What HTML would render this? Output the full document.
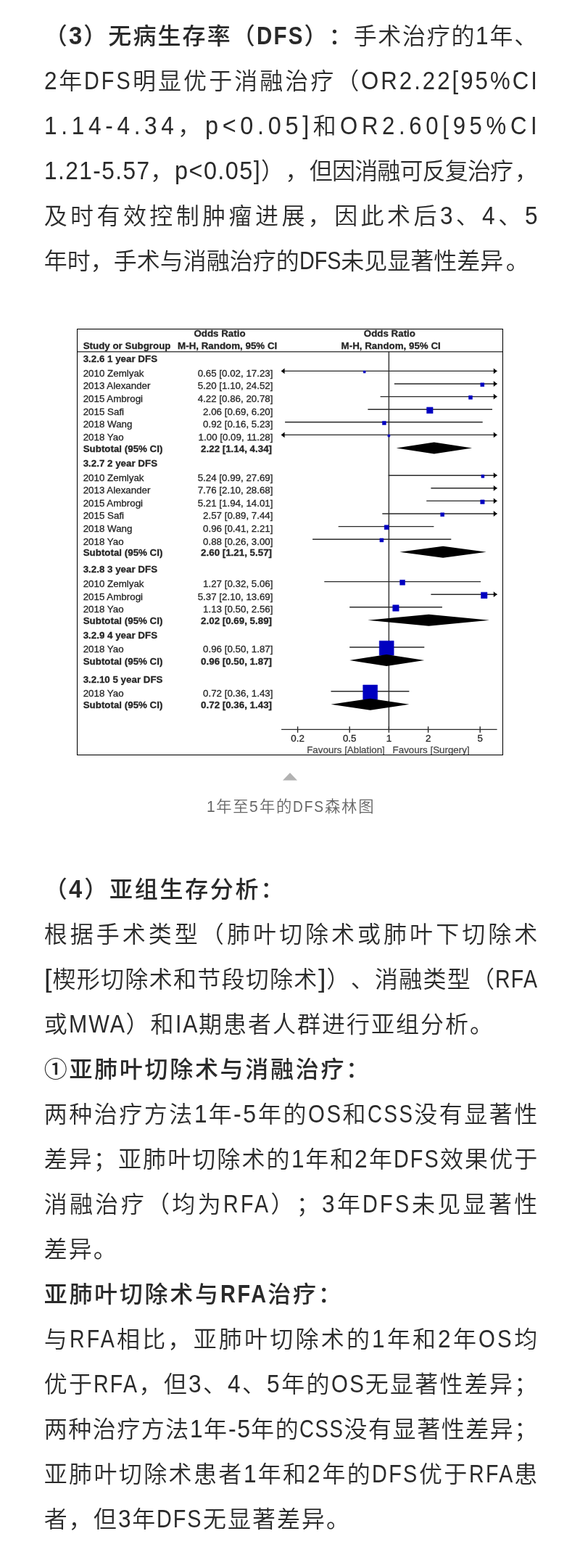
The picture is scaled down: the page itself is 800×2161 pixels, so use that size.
<!DOCTYPE html>
<html lang="zh-CN">
<head>
<meta charset="utf-8">
<meta name="viewport" content="width=800">
<title>无病生存率（DFS）与亚组生存分析</title>
<style>
*{box-sizing:border-box}
html,body{margin:0;padding:0;background:#fff}
body{width:800px;min-height:2161px;position:relative;overflow-x:hidden;color:#2a2a2a;font-family:"Liberation Sans","Noto Sans CJK SC",sans-serif;font-weight:350;-webkit-text-size-adjust:100%;text-spacing-trim:space-all}
.article{width:800px;padding:19px 0 0 60.7px}
p.txt{margin:0;width:680.5px;font-size:32px;line-height:62px;text-align:justify}
p.txt .l{display:block;height:62px;white-space:nowrap}
p.txt strong{font-weight:500}
p.txt strong .e{font-weight:700}
.e{display:inline-block;line-height:1;transform-origin:0 50%;white-space:nowrap;font-size:1.075em}
figure{margin:0;padding:0}
.forest{display:block}
.fig{position:absolute;left:106px;top:453px;width:588px;height:588px}
.tri{position:absolute;left:388px;top:1065px;width:24px;height:12px;display:block}
figcaption{position:absolute;left:284.67px;top:1094px;width:234.66px;font-size:21.33px;line-height:36px;letter-spacing:1.8px;color:#666;font-weight:350;white-space:nowrap}
.sec2{position:absolute;left:60.7px;top:1195px;width:680.5px}
</style>
</head>
<body>
<article class="article">
<section class="sec1">
<p class="txt">
<span class="l" style="letter-spacing:1.71px"><strong style="letter-spacing:2.11px">（<span class="e" style="width:20.36px;transform:scaleX(0.9535);letter-spacing:2.22px">3</span>）无病生存率（<span class="e" style="width:65.48px;transform:scaleX(0.8596);letter-spacing:2.46px">DFS</span>）：</strong>手术治疗的<span class="e" style="width:19.29px;transform:scaleX(0.9184);letter-spacing:1.87px">1</span>年、</span>
<span class="l" style="letter-spacing:3.04px"><span class="e" style="width:20.62px;transform:scaleX(0.9184);letter-spacing:3.31px">2</span>年<span class="e" style="width:66.69px;transform:scaleX(0.8369);letter-spacing:3.63px">DFS</span>明显优于消融治疗（<span class="e" style="width:245.89px;transform:scaleX(0.9054);letter-spacing:3.36px">OR2.22[95%CI</span></span>
<span class="l" style="letter-spacing:5.67px"><span class="e" style="width:184.62px;transform:scaleX(0.9194);letter-spacing:6.16px">1.14-4.34</span>，<span class="e" style="width:148.83px;transform:scaleX(0.9434);letter-spacing:6.01px">p&lt;0.05]</span>和<span class="e" style="width:277.43px;transform:scaleX(0.9054);letter-spacing:6.26px">OR2.60[95%CI</span></span>
<span class="l"><span class="e" style="width:146.57px;transform:scaleX(0.9194);letter-spacing:1.57px">1.21-5.57</span><span style="letter-spacing:1.44px">，</span><span class="e" style="width:119.24px;transform:scaleX(0.9434);letter-spacing:1.53px">p&lt;0.05]</span><span style="letter-spacing:1.44px">），</span><span style="letter-spacing:-0.85px">但因消融可反复治</span><span style="letter-spacing:2px">疗，</span></span>
<span class="l" style="letter-spacing:4.41px">及时有效控制肿瘤进展，因此术后<span class="e" style="width:21.99px;transform:scaleX(0.9184);letter-spacing:4.8px">3</span>、<span class="e" style="width:21.99px;transform:scaleX(0.9184);letter-spacing:4.8px">4</span>、<span class="e" style="width:21.99px;transform:scaleX(0.9184);letter-spacing:4.8px">5</span></span>
<span class="l">年时，手术与消融治疗的<span class="e" style="width:57.58px;transform:scaleX(0.8369)">DFS</span>未见显著性差<span style="letter-spacing:3.5px">异</span>。</span>
</p>
</section>
<figure>
<div class="fig">
<svg class="forest" width="588" height="588" viewBox="106 453 588 588" font-family="'Liberation Sans', sans-serif" font-size="13.35" fill="#262626" stroke="#262626" stroke-width="0.3">
<defs><filter id="soft" x="-2%" y="-2%" width="104%" height="104%"><feGaussianBlur stdDeviation="0.45"/></filter></defs>
<rect x="106" y="453" width="588" height="588" fill="#fff"/>
<g filter="url(#soft)">
<g font-weight="bold">
<text x="303" y="463.5" text-anchor="middle">Odds Ratio</text>
<text x="537.4" y="463.5" text-anchor="middle">Odds Ratio</text>
<text x="114.7" y="481.4">Study or Subgroup</text>
<text x="313.7" y="481.4" text-anchor="middle">M-H, Random, 95% CI</text>
<text x="539.2" y="481.4" text-anchor="middle">M-H, Random, 95% CI</text>
<text x="114.7" y="498.6">3.2.6 1 year DFS</text>
<text x="114.7" y="623">Subtotal (95% CI)</text>
<text x="375" y="623" text-anchor="end">2.22 [1.14, 4.34]</text>
<text x="114.7" y="642.6">3.2.7 2 year DFS</text>
<text x="114.7" y="766.4">Subtotal (95% CI)</text>
<text x="375" y="766.4" text-anchor="end">2.60 [1.21, 5.57]</text>
<text x="114.7" y="788.9">3.2.8 3 year DFS</text>
<text x="114.7" y="860.4">Subtotal (95% CI)</text>
<text x="375" y="860.4" text-anchor="end">2.02 [0.69, 5.89]</text>
<text x="114.7" y="879.7">3.2.9 4 year DFS</text>
<text x="114.7" y="915.6">Subtotal (95% CI)</text>
<text x="375" y="915.6" text-anchor="end">0.96 [0.50, 1.87]</text>
<text x="114.7" y="941.2">3.2.10 5 year DFS</text>
<text x="114.7" y="976.4">Subtotal (95% CI)</text>
<text x="375" y="976.4" text-anchor="end">0.72 [0.36, 1.43]</text>
</g>
<g>
<text x="114.7" y="518.7">2010 Zemlyak</text>
<text x="376.5" y="518.7" text-anchor="end">0.65 [0.02, 17.23]</text>
<text x="114.7" y="536.3">2013 Alexander</text>
<text x="376.5" y="536.3" text-anchor="end">5.20 [1.10, 24.52]</text>
<text x="114.7" y="553.9">2015 Ambrogi</text>
<text x="376.5" y="553.9" text-anchor="end">4.22 [0.86, 20.78]</text>
<text x="114.7" y="571.5">2015 Safi</text>
<text x="376.5" y="571.5" text-anchor="end">2.06 [0.69, 6.20]</text>
<text x="114.7" y="589.1">2018 Wang</text>
<text x="376.5" y="589.1" text-anchor="end">0.92 [0.16, 5.23]</text>
<text x="114.7" y="606.7">2018 Yao</text>
<text x="376.5" y="606.7" text-anchor="end">1.00 [0.09, 11.28]</text>
<text x="114.7" y="662.5">2010 Zemlyak</text>
<text x="376.5" y="662.5" text-anchor="end">5.24 [0.99, 27.69]</text>
<text x="114.7" y="680.1">2013 Alexander</text>
<text x="376.5" y="680.1" text-anchor="end">7.76 [2.10, 28.68]</text>
<text x="114.7" y="697.7">2015 Ambrogi</text>
<text x="376.5" y="697.7" text-anchor="end">5.21 [1.94, 14.01]</text>
<text x="114.7" y="715.3">2015 Safi</text>
<text x="376.5" y="715.3" text-anchor="end">2.57 [0.89, 7.44]</text>
<text x="114.7" y="732.9">2018 Wang</text>
<text x="376.5" y="732.9" text-anchor="end">0.96 [0.41, 2.21]</text>
<text x="114.7" y="750.5">2018 Yao</text>
<text x="376.5" y="750.5" text-anchor="end">0.88 [0.26, 3.00]</text>
<text x="114.7" y="808.9">2010 Zemlyak</text>
<text x="376.5" y="808.9" text-anchor="end">1.27 [0.32, 5.06]</text>
<text x="114.7" y="826.5">2015 Ambrogi</text>
<text x="376.5" y="826.5" text-anchor="end">5.37 [2.10, 13.69]</text>
<text x="114.7" y="844.1">2018 Yao</text>
<text x="376.5" y="844.1" text-anchor="end">1.13 [0.50, 2.56]</text>
<text x="114.7" y="899.3">2018 Yao</text>
<text x="376.5" y="899.3" text-anchor="end">0.96 [0.50, 1.87]</text>
<text x="114.7" y="960.1">2018 Yao</text>
<text x="376.5" y="960.1" text-anchor="end">0.72 [0.36, 1.43]</text>
</g>
<g stroke="#2a2a2a" stroke-width="1.4" fill="none">
<path d="M107 484.7H693" stroke="#4a4a4a" stroke-width="1.6"/>
<path d="M536.4 484.7V1005.4"/>
<path d="M388.1 1005.4H685.6"/>
<path d="M410.6 1001.2V1009.8M482.2 1001.2V1009.8M536.4 1001.2V1009.8M590.6 1001.2V1009.8M662.2 1001.2V1009.8"/>
<path d="M388.1 511.4H685.6M543.9 529H685.6M524.6 546.6H685.6M507.4 564.2H679M393.1 581.8H665.7M388.1 599.4H685.6M535.6 655.2H685.6M594.4 672.8H685.6M588.2 690.4H685.6M527.3 708H685.6M466.7 725.6H598.4M431.1 743.2H622.3M447.3 801.6H663.1M594.4 819.2H685.6M482.2 836.8H609.9M482.2 892H585.3M456.5 952.8H564.4"/>
</g>
<path d="M387.8 511.4l4.8 -3.9v7.8zM685.6 511.4l-4.8 -3.9v7.8zM685.6 529l-4.8 -3.9v7.8zM685.6 546.6l-4.8 -3.9v7.8zM387.8 599.4l4.8 -3.9v7.8zM685.6 599.4l-4.8 -3.9v7.8zM685.6 655.2l-4.8 -3.9v7.8zM685.6 672.8l-4.8 -3.9v7.8zM685.6 690.4l-4.8 -3.9v7.8zM685.6 708l-4.8 -3.9v7.8zM685.6 819.2l-4.8 -3.9v7.8z" fill="#000" stroke="none"/>
<path d="M501.2 511.1h3v3h-3zM662.8 527.7h5v5h-5zM646.5 545.3h5v5h-5zM588.6 561.2h8.5v8.5h-8.5zM527.4 580.5h5v5h-5zM534.9 599.1h3v3h-3zM663.9 654.4h4v4h-4zM662.7 688.9h5.5v5.5h-5.5zM607.7 706.7h5v5h-5zM530.2 723.8h6v6h-6zM523.9 741.9h5v5h-5zM551.6 799.3h7v7h-7zM663.5 816.2h8.5v8.5h-8.5zM541.7 833.8h8.5v8.5h-8.5zM523.2 883.2h20v20h-20zM500.7 944h20v20h-20z" fill="#0000c0" stroke="#0000c0" stroke-width="0.5"/>
<path d="M546.6 617.4L598.7 609.4L651.1 617.4L598.7 625.4zM551.3 760.8L611.1 752.8L670.7 760.8L611.1 768.8zM507.4 854.8L591.4 846.8L675 854.8L591.4 862.8zM482.2 910L533.2 902L585.3 910L533.2 918zM456.5 970.8L510.7 962.8L564.4 970.8L510.7 978.8z" fill="#000" stroke="none"/>
<g text-anchor="middle">
<text x="410.6" y="1022.4">0.2</text>
<text x="482.2" y="1022.4">0.5</text>
<text x="536.4" y="1022.4">1</text>
<text x="590.6" y="1022.4">2</text>
<text x="662.2" y="1022.4">5</text>
<text x="477" y="1037.6" fill="#4d4d4d" stroke="#4d4d4d">Favours [Ablation]</text>
<text x="594.6" y="1037.6" fill="#4d4d4d" stroke="#4d4d4d">Favours [Surgery]</text>
</g>
</g>
<rect x="106.5" y="453.5" width="587" height="587" fill="none" stroke="#000" stroke-width="1.1"/>
</svg>
</div>
<svg class="tri" viewBox="0 0 24 12" aria-hidden="true"><path d="M12 0L22 10.5H2z" fill="#b2b2b2"/></svg>
<figcaption><span><span class="e" style="width:13.52px;transform:scaleX(0.9191);letter-spacing:1.96px">1</span>年至<span class="e" style="width:13.52px;transform:scaleX(0.9191);letter-spacing:1.96px">5</span>年的<span class="e" style="width:43.77px;transform:scaleX(0.8377);letter-spacing:2.15px">DFS</span>森林图</span></figcaption>
</figure>
<section class="sec2">
<p class="txt">
<span class="l" style="letter-spacing:2.7px"><strong>（<span class="e" style="width:20.95px;transform:scaleX(0.9535);letter-spacing:2.83px">4</span>）亚组生存分析：</strong></span>
<span class="l" style="letter-spacing:4.03px">根据手术类型（肺叶切除术或肺叶下切除术</span>
<span class="l" style="letter-spacing:1.27px"><span class="e" style="width:11.86px;transform:scaleX(1.1078);letter-spacing:1.14px">[</span>楔形切除术和节段切除术<span class="e" style="width:11.86px;transform:scaleX(1.1078);letter-spacing:1.14px">]</span>）、消融类型（<span class="e" style="width:59.27px;transform:scaleX(0.8292);letter-spacing:1.53px">RFA</span></span>
<span class="l" style="letter-spacing:2px">或<span class="e" style="width:78.91px;transform:scaleX(0.8807);letter-spacing:2.27px">MWA</span>）和<span class="e" style="width:32.45px;transform:scaleX(0.8755);letter-spacing:2.28px">IA</span>期患者人群进行亚组分析。</span>
<span class="l" style="letter-spacing:2.7px"><strong>①亚肺叶切除术与消融治疗：</strong></span>
<span class="l" style="letter-spacing:2.51px">两种治疗方法<span class="e" style="width:20.08px;transform:scaleX(0.9184);letter-spacing:2.73px">1</span>年<span class="e" style="width:33.56px;transform:scaleX(0.9331);letter-spacing:2.69px">-5</span>年的<span class="e" style="width:47.51px;transform:scaleX(0.8551);letter-spacing:2.93px">OS</span>和<span class="e" style="width:64.33px;transform:scaleX(0.8034);letter-spacing:3.12px">CSS</span>没有显著性</span>
<span class="l" style="letter-spacing:2.09px">差异；亚肺叶切除术的<span class="e" style="width:19.66px;transform:scaleX(0.9184);letter-spacing:2.27px">1</span>年和<span class="e" style="width:19.66px;transform:scaleX(0.9184);letter-spacing:2.27px">2</span>年<span class="e" style="width:63.84px;transform:scaleX(0.8369);letter-spacing:2.49px">DFS</span>效果优于</span>
<span class="l" style="letter-spacing:3.33px">消融治疗（均为<span class="e" style="width:65.46px;transform:scaleX(0.8292);letter-spacing:4.02px">RFA</span>）；<span class="e" style="width:20.91px;transform:scaleX(0.9184);letter-spacing:3.63px">3</span>年<span class="e" style="width:67.57px;transform:scaleX(0.8369);letter-spacing:3.98px">DFS</span>未见显著性</span>
<span class="l" style="letter-spacing:2px">差异。</span>
<span class="l" style="letter-spacing:2.7px"><strong>亚肺叶切除术与<span class="e" style="width:65.74px;transform:scaleX(0.8380);letter-spacing:3.22px">RFA</span>治疗：</strong></span>
<span class="l" style="letter-spacing:3.21px">与<span class="e" style="width:65.1px;transform:scaleX(0.8292);letter-spacing:3.87px">RFA</span>相比，亚肺叶切除术的<span class="e" style="width:20.79px;transform:scaleX(0.9184);letter-spacing:3.5px">1</span>年和<span class="e" style="width:20.79px;transform:scaleX(0.9184);letter-spacing:3.5px">2</span>年<span class="e" style="width:48.92px;transform:scaleX(0.8551);letter-spacing:3.76px">OS</span>均</span>
<span class="l" style="letter-spacing:2.27px">优于<span class="e" style="width:62.27px;transform:scaleX(0.8292);letter-spacing:2.73px">RFA</span>，但<span class="e" style="width:19.85px;transform:scaleX(0.9184);letter-spacing:2.47px">3</span>、<span class="e" style="width:19.85px;transform:scaleX(0.9184);letter-spacing:2.47px">4</span>、<span class="e" style="width:19.85px;transform:scaleX(0.9184);letter-spacing:2.47px">5</span>年的<span class="e" style="width:47.03px;transform:scaleX(0.8551);letter-spacing:2.65px">OS</span>无显著性差异；</span>
<span class="l" style="letter-spacing:1.53px">两种治疗方法<span class="e" style="width:19.11px;transform:scaleX(0.9184);letter-spacing:1.66px">1</span>年<span class="e" style="width:31.6px;transform:scaleX(0.9331);letter-spacing:1.64px">-5</span>年的<span class="e" style="width:61.4px;transform:scaleX(0.8034);letter-spacing:1.9px">CSS</span>没有显著性差异；</span>
<span class="l" style="letter-spacing:2.38px">亚肺叶切除术患者<span class="e" style="width:19.96px;transform:scaleX(0.9184);letter-spacing:2.59px">1</span>年和<span class="e" style="width:19.96px;transform:scaleX(0.9184);letter-spacing:2.59px">2</span>年的<span class="e" style="width:64.72px;transform:scaleX(0.8369);letter-spacing:2.84px">DFS</span>优于<span class="e" style="width:62.61px;transform:scaleX(0.8292);letter-spacing:2.87px">RFA</span>患</span>
<span class="l" style="letter-spacing:2px">者，但<span class="e" style="width:19.58px;transform:scaleX(0.9184);letter-spacing:2.18px">3</span>年<span class="e" style="width:63.58px;transform:scaleX(0.8369);letter-spacing:2.39px">DFS</span>无显著差异。</span>
</p>
</section>
</article>
</body>
</html>
